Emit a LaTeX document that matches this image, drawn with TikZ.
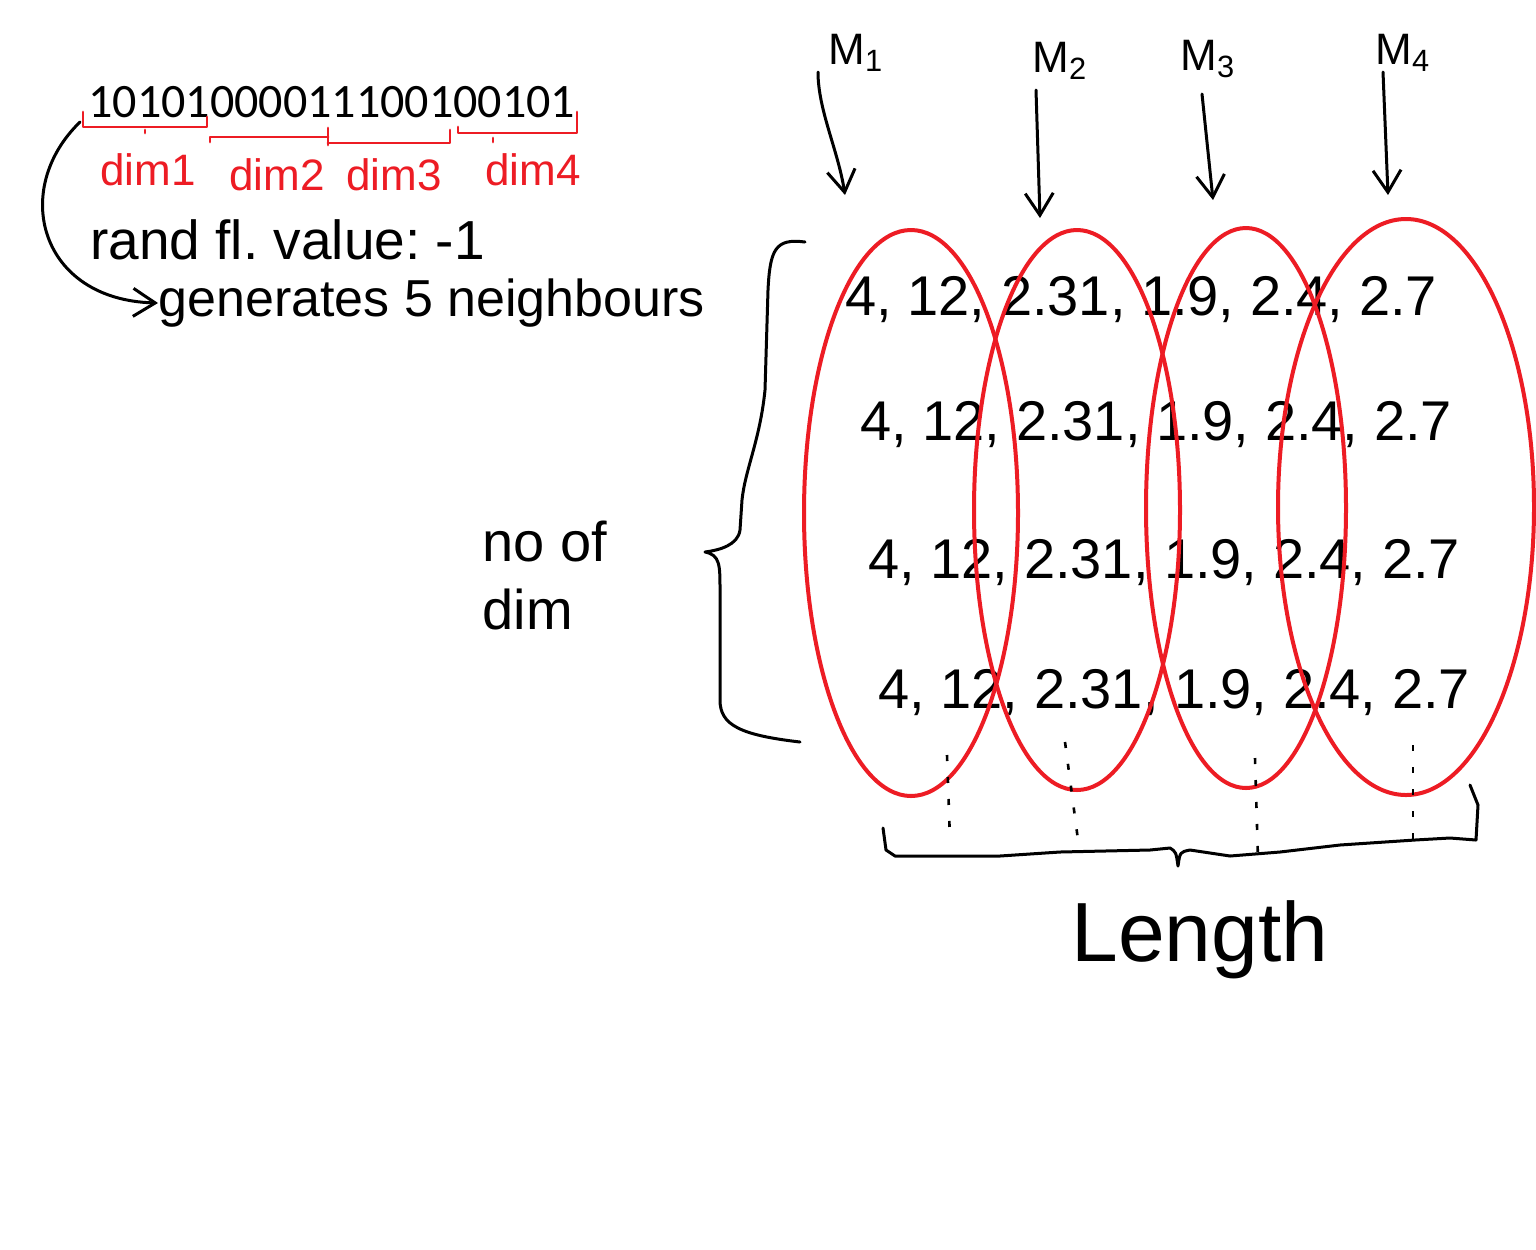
\documentclass[tikz,border=0pt]{standalone}
\usepackage{fontspec}
\setmainfont{Liberation Sans}
\newfontfamily\typed{Carlito}
\usetikzlibrary{arrows.meta}
\definecolor{pred}{RGB}{237,28,36}
\frenchspacing
\begin{document}
\begin{tikzpicture}[x=0.5pt,y=-0.5pt,
  ink/.style={line width=1.5pt, line cap=round, line join=round},
  redink/.style={draw=pred, line width=2pt},
  redbr/.style={draw=pred, line width=1.4pt, line cap=round, line join=round},
  arr/.style={-{Straight Barb[length=11pt,width=14pt,line width=1.5pt]}},
  hand/.style={inner sep=0pt, font=\fontsize{26}{30}\selectfont},
  mlab/.style={inner sep=0pt, anchor=south west, font=\fontsize{22}{26}\selectfont},
  dimlab/.style={inner sep=0pt, text=pred, font=\fontsize{22}{26}\selectfont},
  rowtxt/.style={inner sep=0pt, anchor=base west, font=\fontsize{28}{32}\selectfont},
  dots/.style={line width=1.3pt, dash pattern=on 3pt off 8pt}]
\useasboundingbox[fill=white] (0,0) rectangle (1536,1249);

% binary string and its dimension brackets
\node[anchor=base west, inner sep=0pt, font=\typed\fontsize{24}{28}\selectfont] (bits) at (88,117) {10101000011100100101};
\draw[redbr] (83,112) -- (83,127) -- (207,127) -- (207,117);
\draw[redbr] (145,130) -- (145,133);
\draw[redbr] (210,142) -- (210,137) -- (328,137);
\draw[redbr] (328,128) -- (328,145);
\draw[redbr] (328,143) -- (450,143) -- (450,130);
\draw[redbr] (458,127) -- (458,133) -- (577,133) -- (577,112);
\draw[redbr] (493,138) -- (493,142);
\node[dimlab] (d1) at (148,170) {dim1};
\node[dimlab] (d2) at (277,175) {dim2};
\node[dimlab] (d3) at (394,175) {dim3};
\node[dimlab] (d4) at (533,170) {dim4};

% left notes
\node[hand, anchor=west, font=\fontsize{27.5}{32}\selectfont] (rand) at (90,240) {rand fl. value: -1};
\node[hand, anchor=west] (gen) at (158,303) {generates 5 neighbours};
\coordinate (cs) at (80,122);
\draw[ink, arr] (cs) .. controls (10,190) and (40,300) .. (gen.west);

% no of dim
\node[hand, align=left, font=\fontsize{28}{34}\selectfont] (nod) at (545,575) {no of\\dim};
\draw[ink] (805,242) .. controls (775,238) and (770,250) .. (768,290) -- (765,390)
  .. controls (760,440) and (745,470) .. (742,500) -- (740,530)
  .. controls (738,545) and (720,550) .. (705,552)
  .. controls (720,555) and (720,565) .. (720,590) -- (720,700)
  .. controls (720,725) and (740,735) .. (800,742);

% M labels and arrows
\node[mlab] (M1) at (828,72) {M\textsubscript{1}};
\node[mlab] (M2) at (1032,80) {M\textsubscript{2}};
\node[mlab] (M3) at (1180,78) {M\textsubscript{3}};
\node[mlab] (M4) at (1375,72) {M\textsubscript{4}};
\coordinate (t1) at (845,195);
\coordinate (t2) at (1040,218);
\coordinate (t3) at (1213,200);
\coordinate (t4) at (1388,195);
\draw[ink, arr] ([xshift=-5pt]M1.south west) .. controls (818,110) and (838,150) .. (t1);
\draw[ink, arr] ([xshift=2pt,yshift=-5pt]M2.south west) -- (t2);
\draw[ink, arr] ([xshift=11pt,yshift=-8pt]M3.south west) -- (t3);
\draw[ink, arr] ([xshift=4pt]M4.south west) -- (t4);

% rows of values
\node[rowtxt] (r1) at (845,315) {4, 12, 2.31, 1.9, 2.4, 2.7};
\node[rowtxt] (r2) at (860,440) {4, 12, 2.31, 1.9, 2.4, 2.7};
\node[rowtxt] (r3) at (868,578) {4, 12, 2.31, 1.9, 2.4, 2.7};
\node[rowtxt] (r4) at (878,708) {4, 12, 2.31, 1.9, 2.4, 2.7};

% ellipses
\draw[redink] (911,513) ellipse [x radius=53.5pt, y radius=141.5pt];
\draw[redink] (1077,510) ellipse [x radius=51.5pt, y radius=140pt];
\draw[redink] (1246,508) ellipse [x radius=50pt, y radius=140pt];
\draw[redink] (1406,507) ellipse [x radius=64pt, y radius=144pt];

% dotted lines
\draw[dots] (947,755) -- (950,840);
\draw[dots] (1065,742) -- (1078,840);
\draw[dots] (1255,758) -- (1258,860);
\draw[dots] (1413,745) -- (1413,850);

% bottom brace
\draw[ink] (883,828) -- (886,850) -- (895,856) -- (1000,856) -- (1060,852) -- (1150,850)
  -- (1170,848) .. controls (1176,852) .. (1178,866) .. controls (1180,852) .. (1190,850)
  -- (1230,856) -- (1280,852) -- (1340,845) -- (1415,840) -- (1450,838) -- (1476,840)
  -- (1478,805) -- (1470,785);
\node[inner sep=0pt, font=\fontsize{42}{48}\selectfont] (len) at (1200,940) {Length};
\end{tikzpicture}
\end{document}
